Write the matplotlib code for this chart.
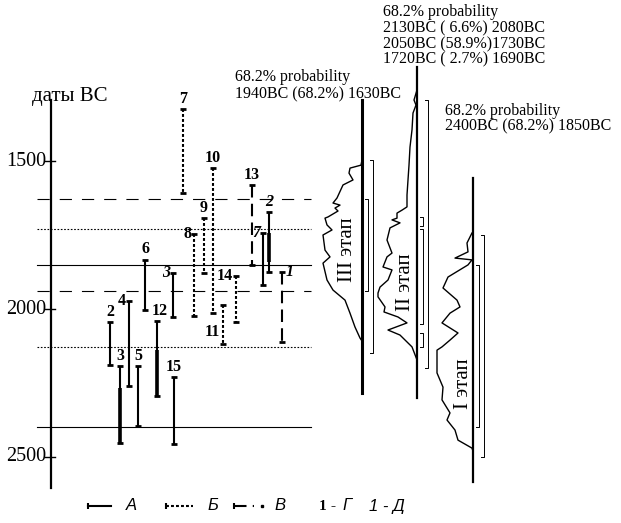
import matplotlib.pyplot as plt

# ---- radiocarbon date ranges, years BC ----
bar_labels = ['2', '3', '4', '5', '6', '7', '8', '9', '10', '11', '12', '13', '14', '15',
              '1', '2', '3', '7']
bar_group = ['Г'] * 14 + ['Д'] * 4
bar_kind = ['А', 'А', 'А', 'А', 'А', 'Б', 'Б', 'Б', 'Б', 'Б', 'А', 'В', 'Б', 'А',
            'В', 'А', 'А', 'А']
bar_from = [2044, 2193, 1973, 2193, 1834, 1324, 1747, 1693, 1524, 1986, 2041, 1581, 1889, 2230,
            1875, 1672, 1878, 1743]
bar_to = [2189, 2453, 2260, 2395, 2003, 1608, 2024, 1878, 2014, 2118, 2294, 1851, 2044, 2456,
          2111, 1875, 2027, 1919]
# heavier part of some ranges
core_from = [None, 2267, None, None, None, None, None, None, None, None, 2139, None, None, None,
             None, 1743, None, None]
core_to = [None, 2453, None, None, None, None, None, None, None, None, 2294, None, None, None,
           None, 1841, None, None]

# boundaries of stages
ref_years = [1630, 1730, 1850, 1940, 2130, 2400]
ref_style = ['dashed', 'dotted', 'solid', 'dashed', 'dotted', 'solid']

# summed probability curves (year BC, relative probability)
p3_years = [1497, 1514, 1524, 1541, 1564, 1581, 1625, 1642, 1649, 1659, 1669, 1689, 1693, 1716,
            1733, 1750, 1801, 1824, 1845, 1902, 1936, 1970, 2014, 2061, 2098, 2108]
p3_prob = [0, 1, 12, 13, 9, 19, 25, 29, 22, 27, 24, 34, 37, 35, 30, 39, 37, 32, 39, 35, 29, 17,
           12, 7, 2, 0]
p2_years = [1182, 1260, 1294, 1311, 1338, 1395, 1453, 1514, 1564, 1615, 1655, 1666, 1676, 1693,
            1699, 1709, 1726, 1767, 1811, 1824, 1858, 1868, 1902, 1926, 1946, 1959, 1993, 2010,
            2027, 2047, 2071, 2088, 2128, 2172]
p2_prob = [0, 0, 3, 1, 4, 5, 7, 8, 9, 10, 10, 15, 20, 20, 25, 17, 27, 30, 25, 30, 34, 25, 29, 37,
           39, 39, 32, 33, 19, 10, 29, 17, 5, 0]
p1_years = [1740, 1743, 1777, 1807, 1828, 1834, 1851, 1892, 1929, 1970, 1993, 2014, 2047, 2081,
            2105, 2128, 2139, 2216, 2264, 2307, 2351, 2375, 2409, 2443, 2470, 2480]
p1_prob = [0, 1, 6, 5, 18, 1, 5, 25, 30, 16, 13, 23, 31, 15, 23, 31, 36, 36, 30, 31, 23, 26, 18,
           15, 1, 0]

range68 = {'III': [(1630, 1940)], 'II': [(1690, 1720), (1730, 2050), (2080, 2130)],
           'I': [(1850, 2400)]}
range95 = {'III': [(1497, 2149)], 'II': [(1294, 2199)], 'I': [(1750, 2500)]}

prob_text = {
    'III': ['68.2% probability', '1940BC (68.2%) 1630BC'],
    'II': ['68.2% probability', '2130BC ( 6.6%) 2080BC', '2050BC (58.9%)1730BC',
           '1720BC ( 2.7%) 1690BC'],
    'I': ['68.2% probability', '2400BC (68.2%) 1850BC'],
}
year_ticks = [1500, 2000, 2500]

# ---- layout ----
W, H = 621, 523


def yr(ypx):
    # pixel row -> year on the vertical scale
    return 1500 + (ypx - 161) / 0.296


bar_x = [110, 120, 129, 138, 145, 183, 194, 204, 213, 223, 157, 252, 236, 174,
         282, 269, 173, 263]
label_side = ['top', 'top', 'left', 'top', 'top', 'top', 'left', 'top', 'top', 'mid', 'top',
              'top', 'left', 'top', 'right', 'top', 'left', 'left']
kind_style = {'А': dict(ls='-', lw=1.5),
              'Б': dict(ls=(0, (1.4, 1.0)), lw=1.5),
              'В': dict(ls=(0, (6, 3)), lw=1.5)}
serif = 'Liberation Serif'
sans = 'Liberation Sans'

fig = plt.figure(figsize=(W / 100, H / 100), dpi=100)
ax = fig.add_axes([0, 0, 1, 1])
ax.set_xlim(0, W)
ax.set_ylim(yr(H), yr(0))
ax.axis('off')

# vertical axis
ax.plot([51, 51], [yr(100), yr(488)], color='black', lw=1.6)
for t in year_ticks:
    ax.plot([45, 55], [t, t], color='black', lw=1.0)
    ax.text(46, t, str(t), ha='right', va='center', fontsize=14.5, family=serif)
ax.text(32, yr(96), 'даты BC', ha='left', va='center', fontsize=15, family=serif)

# stage boundaries
ref_ls = {'dashed': (0, (11, 9)), 'dotted': (0, (1.5, 1.5)), 'solid': '-'}
for y, s in zip(ref_years, ref_style):
    ax.plot([37, 311], [y, y], color='black', lw=0.8, ls=ref_ls[s])

# date ranges
for i in range(len(bar_labels)):
    x = bar_x[i]
    st = kind_style[bar_kind[i]]
    ax.plot([x, x], [bar_from[i], bar_to[i]], color='black', solid_capstyle='butt', **st)
    ax.plot([x, x], [bar_from[i], bar_to[i]], ls='none', marker='_', ms=5, mew=2,
            color='black')
    if core_from[i] is not None:
        ax.plot([x, x], [core_from[i], core_to[i]], color='black', lw=2.6,
                solid_capstyle='butt')
    style = 'italic' if bar_group[i] == 'Д' else 'normal'
    kw = dict(fontsize=11.5, family=serif, weight='bold', style=style)
    side = label_side[i]
    if side == 'top':
        ax.text(x + (3 if bar_labels[i] == '12' else 0), bar_from[i] - 8, bar_labels[i],
                ha='center', va='bottom', **kw)
    elif side == 'left':
        ax.text(x - 3, bar_from[i], bar_labels[i], ha='right', va='center', **kw)
    elif side == 'right':
        ax.text(x + 4, bar_from[i], bar_labels[i], ha='left', va='center', **kw)
    else:
        ax.text(x - 3, bar_from[i] + 0.7 * (bar_to[i] - bar_from[i]), bar_labels[i],
                ha='right', va='center', **kw)

# probability curves
curves = [('III', 362, p3_years, p3_prob, (100, 393), 2.2, (348, 250)),
          ('II', 417, p2_years, p2_prob, (67, 398), 1.6, (405, 282)),
          ('I', 473, p1_years, p1_prob, (178, 482), 1.6, (463, 384))]
for name, base, yrs, prob, span, blw, lab in curves:
    ax.plot([base, base], [yr(span[0]), yr(span[1])], color='black', lw=blw)
    ax.plot([base - p for p in prob], yrs, color='black', lw=1.0)
    for a, b in range68[name]:
        ax.plot([base + 3, base + 6, base + 6, base + 3], [a, a, b, b], color='black', lw=0.7)
    for a, b in range95[name]:
        ax.plot([base + 8, base + 11, base + 11, base + 8], [a, a, b, b], color='black', lw=0.7)
    ax.text(lab[0], yr(lab[1]), name + ' этап', rotation=90, ha='center', va='center',
            fontsize=15, family=serif)

text_pos = {'III': (235, [77, 94]), 'II': (383, [12, 28, 44, 59]), 'I': (445, [111, 126])}
for name, (x0, ys) in text_pos.items():
    for line, y in zip(prob_text[name], ys):
        ax.text(x0, yr(y), line, ha='left', va='center', fontsize=11.5, family=serif)

# legend
ly = yr(506)
leg = [(88, 111, 'А', 126), (166, 193, 'Б', 207), (234, 254, 'В', 274)]
for x0, x1, k, tx in leg:
    ax.plot([x0, x1], [ly, ly], color='black', **kind_style[k])
    ax.plot([x0], [ly], marker='|', ms=5, mew=1.5, color='black')
    ax.text(tx, ly, k, ha='left', va='center', fontsize=12, family=sans, style='italic')
ax.plot([262], [ly], marker='s', ms=2, color='black')
ax.text(319, ly, '1', ha='left', va='center', fontsize=11, family=serif, weight='bold')
ax.text(331, ly, '- ', ha='left', va='center', fontsize=11, family=serif, weight='bold')
ax.text(342, ly, 'Г', ha='left', va='center', fontsize=12, family=sans, style='italic')
ax.text(369, ly, '1 - Д', ha='left', va='center', fontsize=12, family=sans, style='italic')

fig.savefig('out.png', dpi=100)
